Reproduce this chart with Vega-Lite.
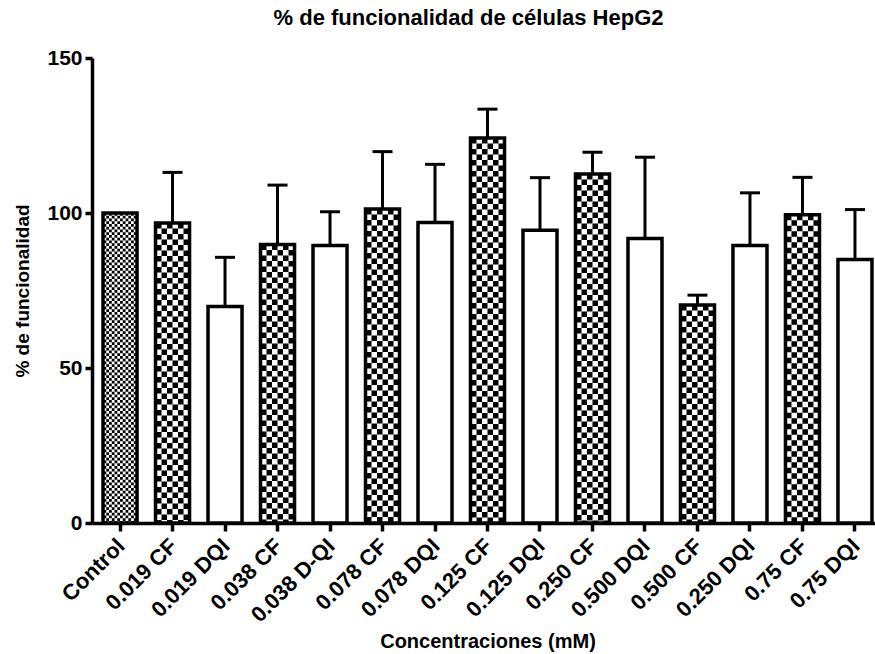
{
  "$schema": "https://vega.github.io/schema/vega-lite/v6.json",
  "width": 791,
  "height": 465,
  "autosize": "none",
  "padding": {"left": 92, "top": 58, "right": 0, "bottom": 131},
  "background": "white",
  "config": {
    "view": {"stroke": null},
    "font": "Liberation Sans",
    "axis": {"grid": false, "domainColor": "black", "tickColor": "black", "labelColor": "black", "titleColor": "black", "labelFont": "Liberation Sans", "titleFont": "Liberation Sans", "labelFontWeight": "bold", "titleFontWeight": "bold"}
  },
  "title": {"text": "% de funcionalidad de células HepG2", "font": "Liberation Sans", "fontSize": 22, "fontWeight": "bold", "color": "black", "anchor": "middle", "dx": -19, "offset": 17},
  "data": {"values": [
    {"g": "Control", "t": "Control", "v": 100, "hi": null},
    {"g": "0.019 CF", "t": "CF", "v": 96.8, "hi": 113.1},
    {"g": "0.019 DQI", "t": "DQI", "v": 69.8, "hi": 85.7},
    {"g": "0.038 CF", "t": "CF", "v": 89.8, "hi": 109.0},
    {"g": "0.038 D-QI", "t": "DQI", "v": 89.5, "hi": 100.4},
    {"g": "0.078 CF", "t": "CF", "v": 101.3, "hi": 119.8},
    {"g": "0.078 DQI", "t": "DQI", "v": 96.9, "hi": 115.7},
    {"g": "0.125 CF", "t": "CF", "v": 124.2, "hi": 133.5},
    {"g": "0.125 DQI", "t": "DQI", "v": 94.4, "hi": 111.4},
    {"g": "0.250 CF", "t": "CF", "v": 112.6, "hi": 119.6},
    {"g": "0.500 DQI", "t": "DQI", "v": 91.8, "hi": 118.0},
    {"g": "0.500 CF", "t": "CF", "v": 70.3, "hi": 73.5},
    {"g": "0.250 DQI", "t": "DQI", "v": 89.5, "hi": 106.5},
    {"g": "0.75 CF", "t": "CF", "v": 99.4, "hi": 111.5},
    {"g": "0.75 DQI", "t": "DQI", "v": 85.0, "hi": 101.1}
  ]},
  "encoding": {
    "x": {"field": "g", "type": "nominal", "sort": null,
      "scale": {"paddingInner": 0.352, "paddingOuter": 0.21},
      "axis": {"title": "Concentraciones (mM)", "titleFontSize": 20, "titlePadding": 6, "labelAngle": -45, "labelAlign": "right", "labelBaseline": "top", "labelFontSize": 22, "labelPadding": 4, "labelOffset": -6, "domainWidth": 3.5, "tickWidth": 3.5, "tickSize": 8}},
    "y": {"field": "v", "type": "quantitative",
      "scale": {"domain": [0, 150], "nice": false},
      "axis": {"title": "% de funcionalidad", "titleFontSize": 19, "titlePadding": 14, "values": [0, 50, 100, 150], "labelFontSize": 21, "labelPadding": 3, "domainWidth": 3.5, "tickWidth": 3.5, "tickSize": 7}}
  },
  "layer": [
    {"mark": {"type": "bar", "fill": "white", "stroke": null}},
    {"transform": [{"filter": "datum.t == 'CF'"}], "mark": {"type": "rule", "color": "black", "strokeCap": "butt", "strokeWidth": 5.5, "strokeDash": [5.5, 5.5], "strokeDashOffset": 0, "xOffset": -13.75}, "encoding": {"y2": {"datum": 0}}},
    {"transform": [{"filter": "datum.t == 'CF'"}], "mark": {"type": "rule", "color": "black", "strokeCap": "butt", "strokeWidth": 5.5, "strokeDash": [5.5, 5.5], "strokeDashOffset": 5.5, "xOffset": -8.25}, "encoding": {"y2": {"datum": 0}}},
    {"transform": [{"filter": "datum.t == 'CF'"}], "mark": {"type": "rule", "color": "black", "strokeCap": "butt", "strokeWidth": 5.5, "strokeDash": [5.5, 5.5], "strokeDashOffset": 0, "xOffset": -2.75}, "encoding": {"y2": {"datum": 0}}},
    {"transform": [{"filter": "datum.t == 'CF'"}], "mark": {"type": "rule", "color": "black", "strokeCap": "butt", "strokeWidth": 5.5, "strokeDash": [5.5, 5.5], "strokeDashOffset": 5.5, "xOffset": 2.75}, "encoding": {"y2": {"datum": 0}}},
    {"transform": [{"filter": "datum.t == 'CF'"}], "mark": {"type": "rule", "color": "black", "strokeCap": "butt", "strokeWidth": 5.5, "strokeDash": [5.5, 5.5], "strokeDashOffset": 0, "xOffset": 8.25}, "encoding": {"y2": {"datum": 0}}},
    {"transform": [{"filter": "datum.t == 'CF'"}], "mark": {"type": "rule", "color": "black", "strokeCap": "butt", "strokeWidth": 5.5, "strokeDash": [5.5, 5.5], "strokeDashOffset": 5.5, "xOffset": 13.75}, "encoding": {"y2": {"datum": 0}}},
    {"transform": [{"filter": "datum.t == 'Control'"}], "mark": {"type": "rule", "color": "black", "strokeCap": "butt", "strokeWidth": 2.75, "strokeDash": [2.75, 2.75], "strokeDashOffset": 0, "xOffset": -15.125}, "encoding": {"y2": {"datum": 0}}},
    {"transform": [{"filter": "datum.t == 'Control'"}], "mark": {"type": "rule", "color": "black", "strokeCap": "butt", "strokeWidth": 2.75, "strokeDash": [2.75, 2.75], "strokeDashOffset": 2.75, "xOffset": -12.375}, "encoding": {"y2": {"datum": 0}}},
    {"transform": [{"filter": "datum.t == 'Control'"}], "mark": {"type": "rule", "color": "black", "strokeCap": "butt", "strokeWidth": 2.75, "strokeDash": [2.75, 2.75], "strokeDashOffset": 0, "xOffset": -9.625}, "encoding": {"y2": {"datum": 0}}},
    {"transform": [{"filter": "datum.t == 'Control'"}], "mark": {"type": "rule", "color": "black", "strokeCap": "butt", "strokeWidth": 2.75, "strokeDash": [2.75, 2.75], "strokeDashOffset": 2.75, "xOffset": -6.875}, "encoding": {"y2": {"datum": 0}}},
    {"transform": [{"filter": "datum.t == 'Control'"}], "mark": {"type": "rule", "color": "black", "strokeCap": "butt", "strokeWidth": 2.75, "strokeDash": [2.75, 2.75], "strokeDashOffset": 0, "xOffset": -4.125}, "encoding": {"y2": {"datum": 0}}},
    {"transform": [{"filter": "datum.t == 'Control'"}], "mark": {"type": "rule", "color": "black", "strokeCap": "butt", "strokeWidth": 2.75, "strokeDash": [2.75, 2.75], "strokeDashOffset": 2.75, "xOffset": -1.375}, "encoding": {"y2": {"datum": 0}}},
    {"transform": [{"filter": "datum.t == 'Control'"}], "mark": {"type": "rule", "color": "black", "strokeCap": "butt", "strokeWidth": 2.75, "strokeDash": [2.75, 2.75], "strokeDashOffset": 0, "xOffset": 1.375}, "encoding": {"y2": {"datum": 0}}},
    {"transform": [{"filter": "datum.t == 'Control'"}], "mark": {"type": "rule", "color": "black", "strokeCap": "butt", "strokeWidth": 2.75, "strokeDash": [2.75, 2.75], "strokeDashOffset": 2.75, "xOffset": 4.125}, "encoding": {"y2": {"datum": 0}}},
    {"transform": [{"filter": "datum.t == 'Control'"}], "mark": {"type": "rule", "color": "black", "strokeCap": "butt", "strokeWidth": 2.75, "strokeDash": [2.75, 2.75], "strokeDashOffset": 0, "xOffset": 6.875}, "encoding": {"y2": {"datum": 0}}},
    {"transform": [{"filter": "datum.t == 'Control'"}], "mark": {"type": "rule", "color": "black", "strokeCap": "butt", "strokeWidth": 2.75, "strokeDash": [2.75, 2.75], "strokeDashOffset": 2.75, "xOffset": 9.625}, "encoding": {"y2": {"datum": 0}}},
    {"transform": [{"filter": "datum.t == 'Control'"}], "mark": {"type": "rule", "color": "black", "strokeCap": "butt", "strokeWidth": 2.75, "strokeDash": [2.75, 2.75], "strokeDashOffset": 0, "xOffset": 12.375}, "encoding": {"y2": {"datum": 0}}},
    {"transform": [{"filter": "datum.t == 'Control'"}], "mark": {"type": "rule", "color": "black", "strokeCap": "butt", "strokeWidth": 2.75, "strokeDash": [2.75, 2.75], "strokeDashOffset": 2.75, "xOffset": 15.125}, "encoding": {"y2": {"datum": 0}}},
    {"mark": {"type": "bar", "fill": null, "fillOpacity": 0, "stroke": "black", "strokeWidth": 3.5}},
    {"transform": [{"filter": "datum.hi != null"}], "mark": {"type": "rule", "color": "black", "strokeWidth": 3}, "encoding": {"y2": {"field": "hi"}}},
    {"transform": [{"filter": "datum.hi != null"}], "mark": {"type": "tick", "color": "black", "thickness": 3, "size": 20, "opacity": 1}, "encoding": {"y": {"field": "hi", "type": "quantitative"}}}
  ]
}
